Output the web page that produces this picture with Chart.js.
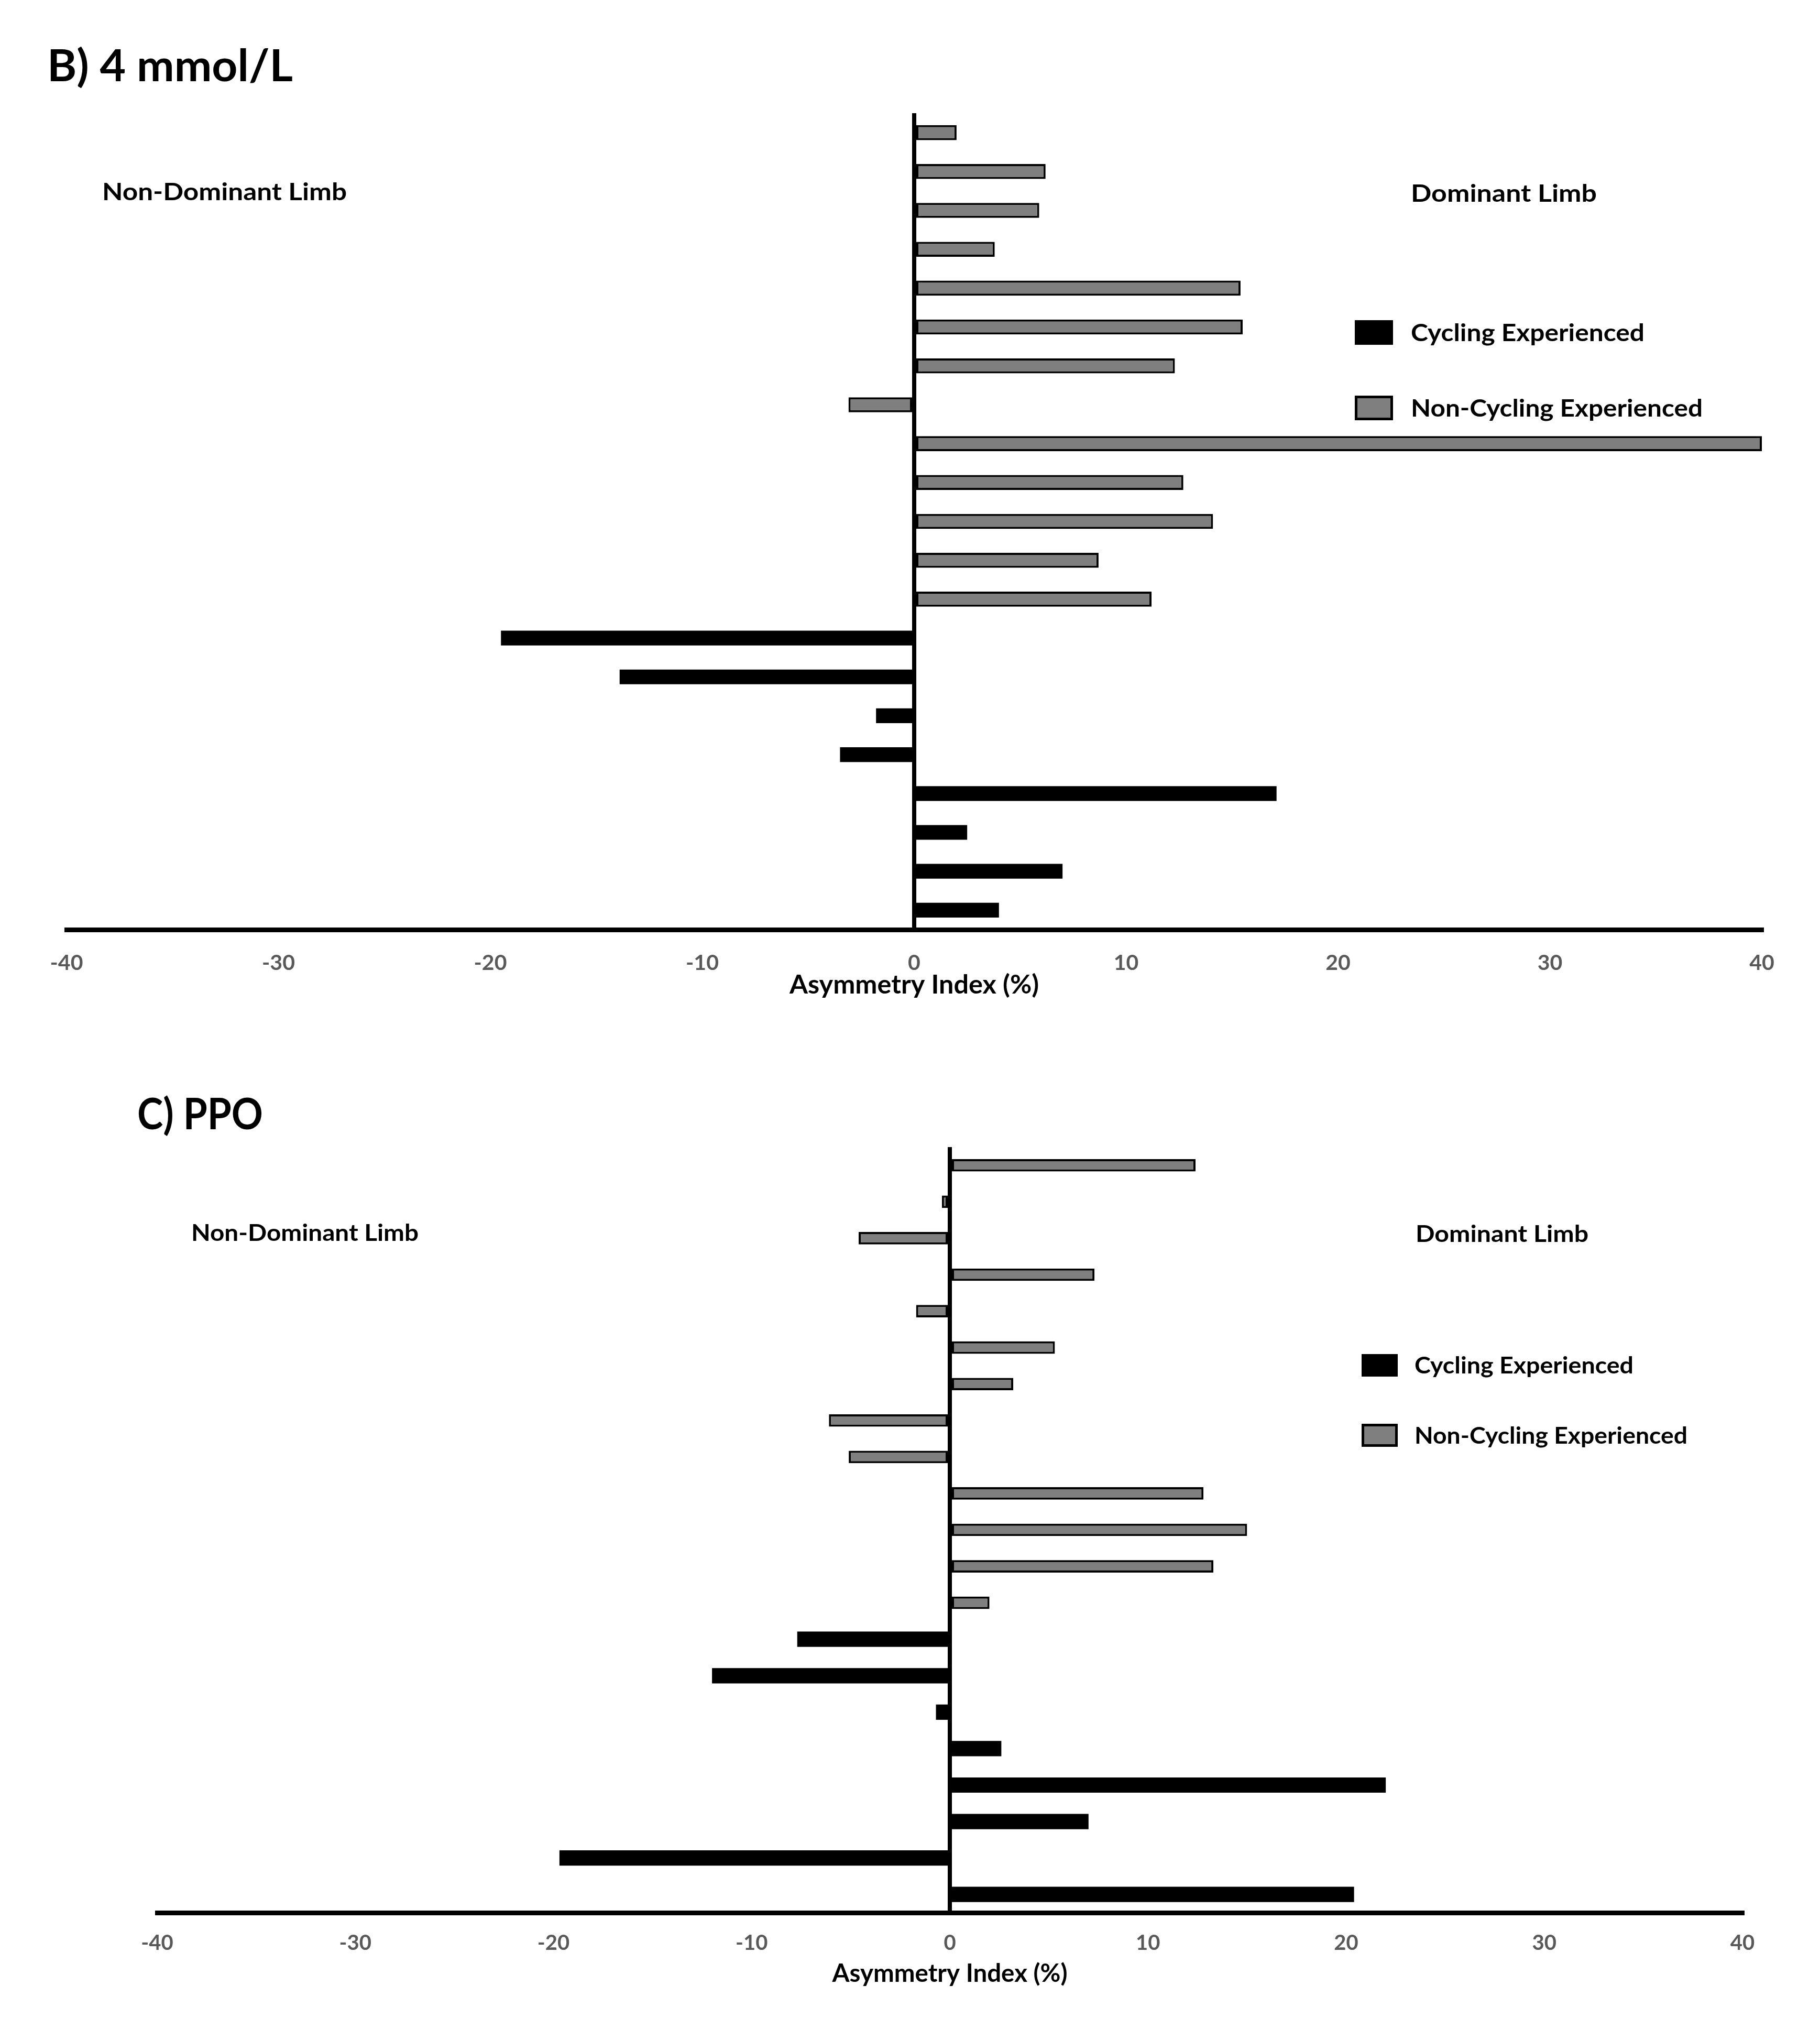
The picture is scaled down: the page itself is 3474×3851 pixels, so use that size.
<!DOCTYPE html>
<html>
<head>
<meta charset="utf-8">
<script src="https://cdn.jsdelivr.net/npm/chart.js@4.4.1/dist/chart.umd.min.js"></script>
<style>
html,body{margin:0;padding:0;background:#fff;}
body{width:3474px;height:3851px;position:relative;overflow:hidden;}
canvas{position:absolute;left:0;}
</style>
</head>
<body>
<canvas id="c1" width="3474" height="1950" style="top:0px"></canvas>
<canvas id="c2" width="3474" height="1901" style="top:1950px"></canvas>
<script>
// ---------- data ----------
const participants = ['P1','P2','P3','P4','P5','P6','P7','P8','P9','P10','P11','P12','P13','P14','P15','P16','P17','P18','P19','P20','P21'];
const seriesNames = ['Cycling Experienced', 'Non-Cycling Experienced'];
const xTicks = [-40, -30, -20, -10, 0, 10, 20, 30, 40];
const axisTitle = 'Asymmetry Index (%)';

// B) 4 mmol/L
const lactateCycling    = [null, null, null, null, null, null, null, null, null, null, null, null, null, -19.5, -13.9, -1.8, -3.5, 17.1, 2.5, 7.0, 4.0];
const lactateNonCycling = [2.0, 6.2, 5.9, 3.8, 15.4, 15.5, 12.3, -3.1, 40, 12.7, 14.1, 8.7, 11.2, null, null, null, null, null, null, null, null];

// C) PPO
const ppoCycling    = [null, null, null, null, null, null, null, null, null, null, null, null, null, -7.7, -12.0, -0.7, 2.6, 22.0, 7.0, -19.7, 20.4];
const ppoNonCycling = [12.4, -0.4, -4.6, 7.3, -1.7, 5.3, 3.2, -6.1, -5.1, 12.8, 15.0, 13.3, 2.0, null, null, null, null, null, null, null, null];

// ---------- helpers ----------
const FAMILY = 'Lato, "Open Sans", "Liberation Sans", sans-serif';
const mctx = document.createElement('canvas').getContext('2d');
function fitSize(text, width) {
  mctx.font = 'bold 100px ' + FAMILY;
  return 100 * width / mctx.measureText(text).width;
}
function capRatio() {
  mctx.font = 'bold 100px ' + FAMILY;
  return mctx.measureText('H').actualBoundingBoxAscent / 100;
}
// draw text with a given cap height, horizontally condensed to a target width
function drawFitted(ctx, text, x, yCenter, width, cap, color) {
  const size = cap / capRatio();
  ctx.font = 'bold ' + size + 'px ' + FAMILY;
  const w = ctx.measureText(text).width;
  const sx = width / w;
  ctx.save();
  ctx.fillStyle = color || '#000';
  ctx.textAlign = 'left';
  ctx.textBaseline = 'alphabetic';
  ctx.translate(x, yCenter + cap / 2);
  ctx.scale(sx, 1);
  ctx.fillText(text, 0, 0);
  ctx.restore();
}

const annotPlugin = {
  id: 'annot',
  afterDraw(chart, args, opts) {
    const ctx = chart.ctx;
    ctx.save();
    for (const t of opts.texts) drawFitted(ctx, t.text, t.x, t.y, t.w, t.cap);
    chart.data.datasets.forEach((ds, i) => {
      const L = opts.legend[i];
      ctx.fillStyle = ds.backgroundColor;
      ctx.fillRect(L.bx, L.by, L.bw, L.bh);
      if (ds.borderWidth) {
        ctx.lineWidth = L.lw;
        ctx.strokeStyle = ds.borderColor;
        ctx.strokeRect(L.bx + L.lw / 2, L.by + L.lw / 2, L.bw - L.lw, L.bh - L.lw);
      }
      drawFitted(ctx, ds.label, L.tx, L.ty, L.tw, L.cap);
    });
    ctx.restore();
  }
};

function makeChart(canvasId, cfg) {
  const tickSize = cfg.tickSize;
  const titleSize = fitSize(axisTitle, cfg.axisTitleW);
  return new Chart(document.getElementById(canvasId), {
    type: 'bar',
    data: {
      labels: participants,
      datasets: [
        {
          label: seriesNames[0],
          data: cfg.cycling,
          backgroundColor: '#000000',
          borderColor: '#000000',
          borderWidth: 0,
          grouped: false,
          barPercentage: cfg.blackPct,
          categoryPercentage: 1
        },
        {
          label: seriesNames[1],
          data: cfg.nonCycling,
          backgroundColor: '#7f7f7f',
          borderColor: '#000000',
          borderWidth: 4,
          borderSkipped: false,
          grouped: false,
          barPercentage: cfg.grayPct,
          categoryPercentage: 1
        }
      ]
    },
    options: {
      indexAxis: 'y',
      responsive: false,
      animation: false,
      devicePixelRatio: 1,
      layout: { padding: cfg.padding },
      scales: {
        y: { display: false },
        x: {
          type: 'linear',
          min: xTicks[0],
          max: xTicks[xTicks.length - 1],
          afterBuildTicks: s => { s.ticks = xTicks.map(v => ({ value: v })); },
          afterFit: s => { s.height = 150; },
          grid: {
            drawTicks: false,
            color: c => (c.tick && c.tick.value === 0) ? '#000000' : 'rgba(0,0,0,0)',
            lineWidth: 8
          },
          border: { display: true, color: '#000000', width: 9 },
          ticks: {
            color: '#595959',
            padding: cfg.tickOffset - 0.6 * tickSize,
            font: { family: FAMILY, size: tickSize, weight: 'bold' }
          },
          title: {
            display: true,
            text: axisTitle,
            color: '#000000',
            font: { family: FAMILY, size: titleSize, weight: 'bold' },
            padding: { top: 0, bottom: cfg.titleOffset - 0.6 * titleSize }
          }
        }
      },
      plugins: {
        legend: { display: false },
        title: { display: false },
        tooltip: { enabled: false },
        annot: { texts: cfg.texts, legend: cfg.legend }
      }
    },
    plugins: [annotPlugin]
  });
}

makeChart('c1', {
  cycling: lactateCycling,
  nonCycling: lactateNonCycling,
  blackPct: 0.38, grayPct: 0.385,
  padding: { left: 127, right: 111, top: 216, bottom: 26 },
  tickSize: 41, tickOffset: 64,
  axisTitleW: 476, titleOffset: 44,
  texts: [
    { text: 'B) 4 mmol/L', x: 90, y: 124, w: 469, cap: 62 },
    { text: 'Non-Dominant Limb', x: 195, y: 365, w: 467, cap: 33 },
    { text: 'Dominant Limb', x: 2693, y: 368, w: 355, cap: 33 }
  ],
  legend: [
    { bx: 2586, by: 611, bw: 73, bh: 47, lw: 0, tx: 2693, ty: 634, tw: 446, cap: 34 },
    { bx: 2586, by: 755, bw: 73, bh: 47, lw: 5, tx: 2693, ty: 778, tw: 557, cap: 34 }
  ]
});

makeChart('c2', {
  cycling: ppoCycling,
  nonCycling: ppoNonCycling,
  blackPct: 0.42, grayPct: 0.34,
  padding: { left: 300, right: 148, top: 239, bottom: 51 },
  tickSize: 40, tickOffset: 58,
  axisTitleW: 449, titleOffset: 33,
  texts: [
    { text: 'C) PPO', x: 262, y: 175, w: 240, cap: 60 },
    { text: 'Non-Dominant Limb', x: 365, y: 402, w: 434, cap: 32 },
    { text: 'Dominant Limb', x: 2702, y: 404, w: 330, cap: 32 }
  ],
  legend: [
    { bx: 2599, by: 634, bw: 69, bh: 43, lw: 0, tx: 2700, ty: 655, tw: 418, cap: 32 },
    { bx: 2599, by: 767, bw: 69, bh: 44, lw: 5, tx: 2700, ty: 789, tw: 521, cap: 32 }
  ]
});
</script>
</body>
</html>
